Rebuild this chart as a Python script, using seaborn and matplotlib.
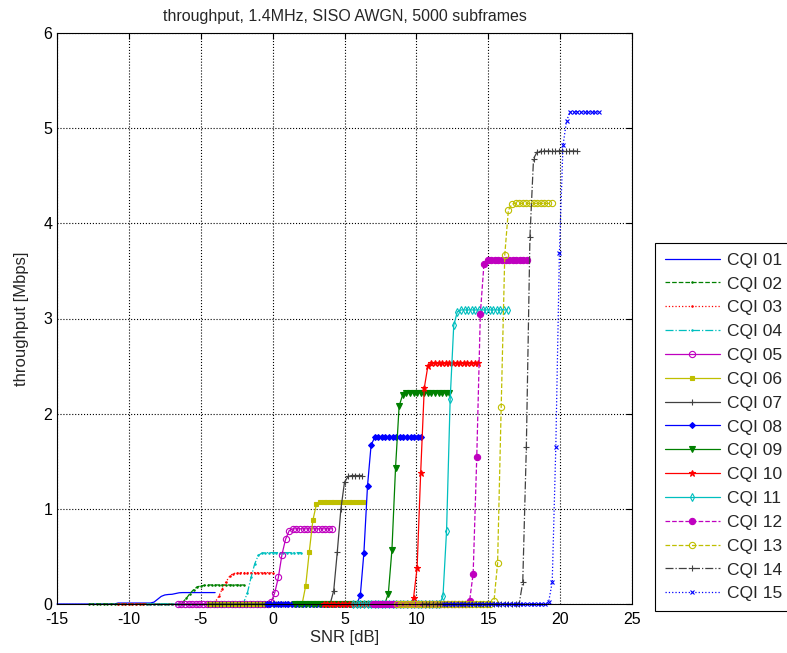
import numpy as np
import matplotlib
matplotlib.use('Agg')
import matplotlib.pyplot as plt
import seaborn as sns

# SNR sweep: each CQI curve starts at its own SNR, fixed step
snr_step = 0.25
snr_start = [-15.0, -12.75, -10.75, -8.75, -6.6, -4.45, -4.5, -0.4,
             1.55, 3.55, 5.6, 6.95, 8.65, 10.4, 11.95]
labels = ['CQI 01', 'CQI 02', 'CQI 03', 'CQI 04', 'CQI 05', 'CQI 06', 'CQI 07', 'CQI 08',
          'CQI 09', 'CQI 10', 'CQI 11', 'CQI 12', 'CQI 13', 'CQI 14', 'CQI 15']

# throughput [Mbps]
tput_cqi01 = [0, 0, 0, 0, 0, 0, 0, 0, 0, 0, 0, 0, 0, 0, 0, 0, 0,
              0.01, 0.01, 0.01, 0.01, 0.01, 0.01, 0.01, 0.01, 0.01, 0.01,
              0.02, 0.05, 0.08, 0.095, 0.10, 0.102, 0.11, 0.118,
              0.12, 0.12, 0.12, 0.12, 0.12, 0.12, 0.12, 0.12, 0.12, 0.12]
tput_cqi02 = [0, 0, 0, 0, 0, 0, 0, 0, 0, 0, 0, 0, 0, 0, 0, 0, 0, 0, 0, 0, 0, 0, 0, 0, 0,
              0.005, 0.02, 0.06, 0.11, 0.15, 0.18, 0.19, 0.195,
              0.2, 0.2, 0.2, 0.2, 0.2, 0.2, 0.2, 0.2, 0.2, 0.2, 0.2]
tput_cqi03 = [0, 0, 0, 0, 0, 0, 0, 0, 0, 0, 0, 0, 0, 0, 0, 0, 0, 0, 0, 0, 0, 0, 0, 0, 0, 0, 0,
              0.02, 0.08, 0.16, 0.23, 0.29, 0.32, 0.325,
              0.33, 0.33, 0.33, 0.33, 0.33, 0.33, 0.33, 0.33, 0.33, 0.33]
tput_cqi04 = [0, 0, 0, 0, 0, 0, 0, 0, 0, 0, 0, 0, 0, 0, 0, 0, 0, 0, 0, 0, 0, 0, 0, 0, 0, 0, 0,
              0.02, 0.12, 0.28, 0.42, 0.51, 0.535,
              0.54, 0.54, 0.54, 0.54, 0.54, 0.54, 0.54, 0.54, 0.54, 0.54, 0.54]
tput_cqi05 = [0, 0, 0, 0, 0, 0, 0, 0, 0, 0, 0, 0, 0, 0, 0, 0, 0, 0, 0, 0, 0, 0, 0, 0, 0, 0,
              0.02, 0.12, 0.28, 0.52, 0.68, 0.77,
              0.79, 0.79, 0.79, 0.79, 0.79, 0.79, 0.79, 0.79, 0.79, 0.79, 0.79, 0.79]
tput_cqi06 = [0, 0, 0, 0, 0, 0, 0, 0, 0, 0, 0, 0, 0, 0, 0, 0, 0, 0, 0, 0, 0, 0, 0, 0, 0, 0, 0,
              0.19, 0.55, 0.88, 1.05,
              1.07, 1.07, 1.07, 1.07, 1.07, 1.07, 1.07, 1.07, 1.07, 1.07, 1.07, 1.07, 1.07]
tput_cqi07 = [0, 0, 0, 0, 0, 0, 0, 0, 0, 0, 0, 0, 0, 0, 0, 0, 0, 0, 0, 0, 0, 0, 0, 0, 0, 0, 0,
              0, 0, 0, 0, 0, 0, 0, 0,
              0.14, 0.55, 1.0, 1.28, 1.34,
              1.35, 1.35, 1.35, 1.35]
tput_cqi08 = [0, 0, 0, 0, 0, 0, 0, 0, 0, 0, 0, 0, 0, 0, 0, 0, 0, 0, 0, 0, 0, 0, 0, 0, 0, 0,
              0.09, 0.54, 1.24, 1.67, 1.75,
              1.76, 1.76, 1.76, 1.76, 1.76, 1.76, 1.76, 1.76, 1.76, 1.76, 1.76, 1.76, 1.76]
tput_cqi09 = [0, 0, 0, 0, 0, 0, 0, 0, 0, 0, 0, 0, 0, 0, 0, 0, 0, 0, 0, 0, 0, 0, 0, 0, 0, 0,
              0.11, 0.57, 1.43, 2.08, 2.2,
              2.22, 2.22, 2.22, 2.22, 2.22, 2.22, 2.22, 2.22, 2.22, 2.22, 2.22, 2.22, 2.22]
tput_cqi10 = [0, 0, 0, 0, 0, 0, 0, 0, 0, 0, 0, 0, 0, 0, 0, 0, 0, 0, 0, 0, 0, 0, 0, 0, 0,
              0.06, 0.38, 1.38, 2.27, 2.5,
              2.53, 2.53, 2.53, 2.53, 2.53, 2.53, 2.53, 2.53, 2.53, 2.53, 2.53, 2.53, 2.53, 2.53]
tput_cqi11 = [0, 0, 0, 0, 0, 0, 0, 0, 0, 0, 0, 0, 0, 0, 0, 0, 0, 0, 0, 0, 0, 0, 0, 0, 0,
              0.08, 0.77, 2.15, 2.93, 3.07,
              3.09, 3.09, 3.09, 3.09, 3.09, 3.09, 3.09, 3.09, 3.09, 3.09, 3.09, 3.09, 3.09, 3.09]
tput_cqi12 = [0, 0, 0, 0, 0, 0, 0, 0, 0, 0, 0, 0, 0, 0, 0, 0, 0, 0, 0, 0, 0, 0, 0, 0, 0, 0, 0,
              0.03, 0.32, 1.54, 3.05, 3.57,
              3.61, 3.61, 3.61, 3.61, 3.61, 3.61, 3.61, 3.61, 3.61, 3.61, 3.61, 3.61]
tput_cqi13 = [0, 0, 0, 0, 0, 0, 0, 0, 0, 0, 0, 0, 0, 0, 0, 0, 0, 0, 0, 0, 0, 0, 0, 0, 0, 0, 0,
              0.03, 0.43, 2.07, 3.67, 4.14, 4.2,
              4.21, 4.21, 4.21, 4.21, 4.21, 4.21, 4.21, 4.21, 4.21, 4.21, 4.21]
tput_cqi14 = [0, 0, 0, 0, 0, 0, 0, 0, 0, 0, 0, 0, 0, 0, 0, 0, 0, 0, 0, 0, 0, 0, 0, 0, 0, 0, 0, 0,
              0.23, 1.65, 3.86, 4.68, 4.75,
              4.76, 4.76, 4.76, 4.76, 4.76, 4.76, 4.76, 4.76, 4.76, 4.76, 4.76]
tput_cqi15 = [0, 0, 0, 0, 0, 0, 0, 0, 0, 0, 0, 0, 0, 0, 0, 0, 0, 0, 0, 0, 0, 0, 0, 0, 0, 0, 0, 0, 0,
              0.02, 0.23, 1.65, 3.69, 4.82, 5.08,
              5.17, 5.17, 5.17, 5.17, 5.17, 5.17, 5.17, 5.17, 5.17]

tputs = [tput_cqi01, tput_cqi02, tput_cqi03, tput_cqi04, tput_cqi05, tput_cqi06, tput_cqi07,
         tput_cqi08, tput_cqi09, tput_cqi10, tput_cqi11, tput_cqi12, tput_cqi13, tput_cqi14,
         tput_cqi15]

# old matlab colour order
mb, mg, mr, mc = (0, 0, 1), (0, 0.5, 0), (1, 0, 0), (0, 0.75, 0.75)
mm, my, mk = (0.75, 0, 0.75), (0.75, 0.75, 0), (0.25, 0.25, 0.25)
colors = [mb, mg, mr, mc, mm, my, mk, mb, mg, mr, mc, mm, my, mk, mb]
styles = ['-', '--', ':', '-.', '-', '-', '-', '-', '-', '-', '-', '--', '--', '-.', ':']
markers = [None, '.', '.', '.', 'o', 's', '+', 'D', 'v', '*', 'd', 'o', 'o', '+', 'x']
msizes = [0, 2, 2, 2, 4.5, 2.5, 5, 3, 4, 4.5, 4, 4.5, 4.5, 5, 3.5]
filled = [True, True, True, True, False, True, True, True, True, True, False, True, False, True, True]

sns.set_style('white')
plt.rcParams['font.family'] = ['Liberation Sans', 'DejaVu Sans']
plt.rcParams['axes.unicode_minus'] = False

fig = plt.figure(figsize=(7.87, 6.53), dpi=100)
ax = fig.add_axes([57 / 787, 49 / 653, 575 / 787, 571 / 653])

for k in range(15):
    y = np.array(tputs[k], dtype=float)
    x = snr_start[k] + snr_step * np.arange(len(y))
    sns.lineplot(x=x, y=y, ax=ax, color=colors[k], linestyle=styles[k], linewidth=0.9,
                 marker=markers[k], markersize=msizes[k],
                 markerfacecolor=colors[k] if filled[k] else 'none',
                 markeredgecolor=colors[k], markeredgewidth=0.8,
                 estimator=None, sort=False, label=labels[k], clip_on=False)

ax.set_xlim(-15, 25)
ax.set_ylim(0, 6)
ax.set_xticks(range(-15, 30, 5))
ax.set_yticks(range(0, 7))
ax.grid(True, color='k', linestyle=':', linewidth=0.8)
ax.set_axisbelow(True)
for s in ax.spines.values():
    s.set_color('k')
    s.set_linewidth(0.8)
ax.tick_params(direction='in', length=4, top=True, right=True, labelsize=11.5, colors='k')
ax.tick_params(axis='x', pad=6)

ax.set_xlabel('SNR [dB]', fontsize=12, labelpad=2)
ax.set_ylabel('throughput [Mbps]', fontsize=12, labelpad=10)
ax.set_title('throughput, 1.4MHz, SISO AWGN, 5000 subframes', fontsize=11.5, pad=9)

leg = ax.legend(loc='upper left', bbox_to_anchor=(655 / 787, 1 - 243 / 653),
                bbox_transform=fig.transFigure, borderaxespad=0, fontsize=12.5,
                frameon=True, fancybox=False, framealpha=1, edgecolor='k',
                handlelength=3.2, handletextpad=0.4, labelspacing=0.5, borderpad=0.55)
leg.get_frame().set_linewidth(0.8)

fig.savefig('out.png', dpi=100)
